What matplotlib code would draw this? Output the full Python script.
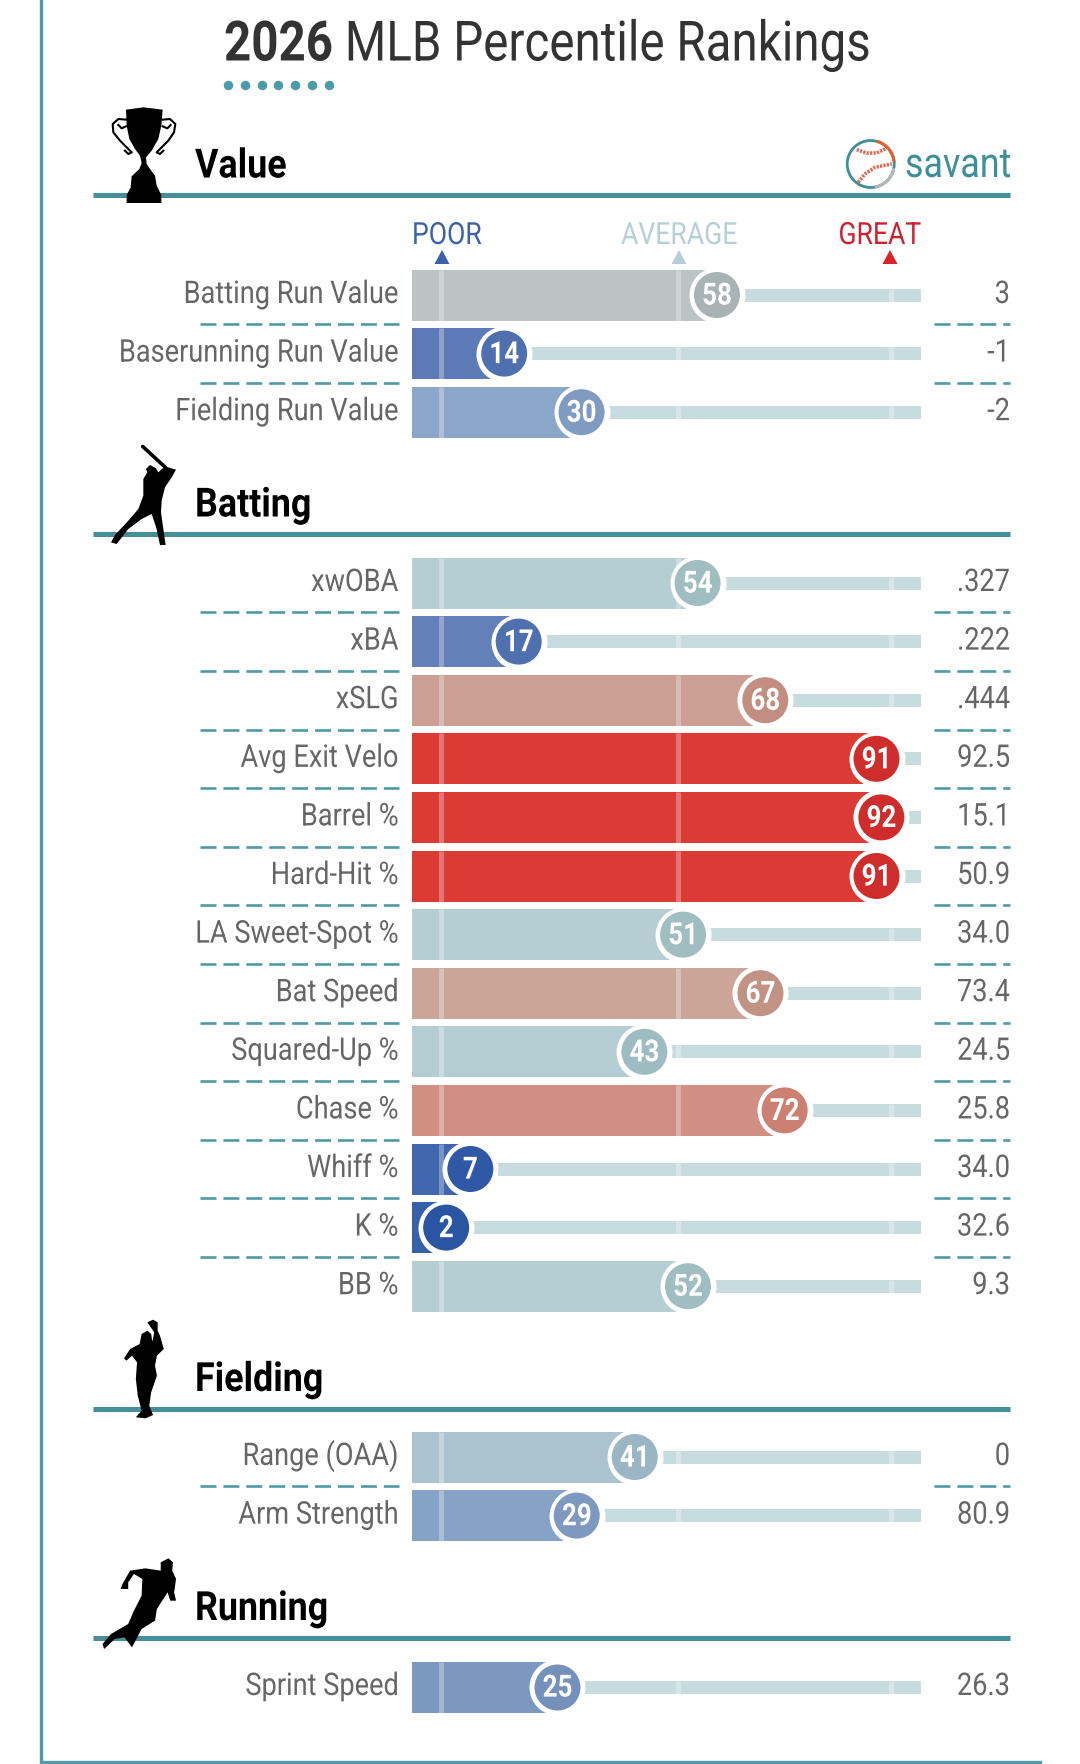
import numpy as np
import matplotlib
matplotlib.use("Agg")
import matplotlib.pyplot as plt
from matplotlib.patches import Polygon, Circle, Arc
from matplotlib.patheffects import AbstractPathEffect
from matplotlib.transforms import Affine2D

W, H = 1080, 1765
plt.rcParams['font.family'] = ['Roboto', 'DejaVu Sans']
plt.rcParams['lines.scale_dashes'] = False

# percentile rows by section
value_labels = ["Batting Run Value", "Baserunning Run Value", "Fielding Run Value"]
value_pct = [58, 14, 30]
value_stats = ["3", "-1", "-2"]
value_bar_colors = ["#bbc3c3", "#5b7ab6", "#8ca6c9"]
value_dot_colors = ["#a9b3b3", "#4f70ae", "#809bc2"]

batting_labels = ["xwOBA", "xBA", "xSLG", "Avg Exit Velo", "Barrel %", "Hard-Hit %", "LA Sweet-Spot %",
                  "Bat Speed", "Squared-Up %", "Chase %", "Whiff %", "K %", "BB %"]
batting_pct = [54, 17, 68, 91, 92, 91, 51, 67, 43, 72, 7, 2, 52]
batting_stats = [".327", ".222", ".444", "92.5", "15.1", "50.9", "34.0", "73.4", "24.5", "25.8", "34.0", "32.6", "9.3"]
batting_bar_colors = ["#b4ced1", "#6480b8", "#cb9f94", "#db3a35", "#db3a35", "#db3a35", "#b4ced1",
                      "#cba598", "#b3cdd2", "#d18e82", "#3f66ae", "#3561ab", "#b4ced1"]
batting_dot_colors = ["#a0bdbf", "#4f70ae", "#c28e82", "#cf2d2b", "#cf2d2b", "#cf2d2b", "#a0bdbf",
                      "#c29385", "#9dbcc1", "#cc8072", "#2f58a6", "#2a55a3", "#a0bdbf"]

fielding_labels = ["Range (OAA)", "Arm Strength"]
fielding_pct = [41, 29]
fielding_stats = ["0", "80.9"]
fielding_bar_colors = ["#aac3cf", "#87a2c7"]
fielding_dot_colors = ["#9ab6c4", "#7d99c0"]

running_labels = ["Sprint Speed"]
running_pct = [25]
running_stats = ["26.3"]
running_bar_colors = ["#7c97c0"]
running_dot_colors = ["#7490bb"]

tick_pcts = [1, 50, 94]

TEAL = "#468f98"
DASH = "#4f9aa5"
ROW = 58.6
BAR_L, BAR_R = 411.5, 921
PCT_L, PCT_R = -5.17, 100.2


class Squeeze(AbstractPathEffect):
    # narrows glyphs around a fixed x so Roboto reads as its condensed cut
    def __init__(self, anchor, sx=0.87):
        super().__init__()
        self.anchor = anchor
        self.sx = sx

    def draw_path(self, renderer, gc, tpath, affine, rgbFace=None):
        narrow = Affine2D().translate(-self.anchor, 0).scale(self.sx, 1).translate(self.anchor, 0)
        renderer.draw_path(gc, tpath, affine + narrow, rgbFace)


fig = plt.figure(figsize=(W / 100, H / 100), dpi=100, facecolor="white")

# pixel-space layer for the frame, headers and icons
bg = fig.add_axes([0, 0, 1, 1], zorder=5)
bg.set_xlim(0, W)
bg.set_ylim(H, 0)
bg.axis("off")
bg.patch.set_alpha(0)


def to_pct(px):
    return PCT_L + (px - BAR_L) * (PCT_R - PCT_L) / (BAR_R - BAR_L)


def to_px(v):
    return BAR_L + (v - PCT_L) * (BAR_R - BAR_L) / (PCT_R - PCT_L)


def section(first_y, labels, pct, stats, bar_colors, dot_colors):
    n = len(labels)
    top = first_y - ROW / 2
    ax = fig.add_axes([BAR_L / W, 1 - (top + n * ROW) / H, (BAR_R - BAR_L) / W, n * ROW / H], zorder=2)
    ax.set_xlim(PCT_L, PCT_R)
    ax.set_ylim(n - 0.5, -0.5)
    ax.axis("off")
    rows = np.arange(n)
    bar_h = 51 / ROW
    track_h = 13 / ROW
    pct = np.array(pct)
    ax.barh(rows, PCT_R - pct, left=pct, height=track_h, color="#c6dcde", zorder=1)
    ax.barh(rows, pct - PCT_L, left=PCT_L, height=bar_h, color=bar_colors, zorder=2)
    for i, v in enumerate(pct):
        for t in tick_pcts:
            h = bar_h if t < v else track_h
            ax.vlines(t, i - h / 2, i + h / 2, color="white", alpha=0.3, lw=3.6, zorder=3)
    ax.scatter(pct, rows, s=(56 * 0.72) ** 2, color="white", lw=0, zorder=4, clip_on=False)
    ax.scatter(pct, rows, s=(46 * 0.72) ** 2, color=dot_colors, lw=0, zorder=5, clip_on=False)
    for i, v in enumerate(pct):
        ax.text(v, i + 0.01, str(v), color="white", fontsize=22, fontweight="bold",
                ha="center", va="center", zorder=6, path_effects=[Squeeze(to_px(v), 0.85)])
        ax.text(to_pct(398.5), i + 8 / ROW, labels[i], color="#666666", fontsize=22.5,
                ha="right", va="baseline", clip_on=False, path_effects=[Squeeze(398.5)])
        ax.text(to_pct(1010), i + 8 / ROW, stats[i], color="#666666", fontsize=22.5,
                ha="right", va="baseline", clip_on=False, path_effects=[Squeeze(1010)])
    for i in range(n - 1):
        y = first_y + (i + 0.5) * ROW
        bg.plot([200, 399], [y, y], color=DASH, lw=1.9, linestyle=(0, (11.5, 5)))
        bg.plot([934, 1010], [y, y], color=DASH, lw=1.9, linestyle=(0, (11.5, 5)))
    return ax


section(296, value_labels, value_pct, value_stats, value_bar_colors, value_dot_colors)
section(584, batting_labels, batting_pct, batting_stats, batting_bar_colors, batting_dot_colors)
section(1458, fielding_labels, fielding_pct, fielding_stats, fielding_bar_colors, fielding_dot_colors)
section(1688, running_labels, running_pct, running_stats, running_bar_colors, running_dot_colors)

# outer frame, open at the top and right
bg.plot([40.5, 40.5, 1040], [0, 1763, 1763], color="#5199ab", lw=2.4, solid_joinstyle="miter")

# page title
r = fig.canvas.get_renderer()
t1 = bg.text(224, 61.5, "2026", fontsize=40, fontweight="bold", color="#333333", va="baseline",
             path_effects=[Squeeze(224, 0.855)])
x1 = 224 + t1.get_window_extent(r).width * 0.855
bg.text(x1 + 12, 61.5, "MLB Percentile Rankings", fontsize=40, color="#333333", va="baseline",
        path_effects=[Squeeze(x1 + 12, 0.855)])
bg.scatter(np.linspace(228, 328.5, 7), [85.5] * 7, s=(9.5 * 0.72) ** 2, color="#4c9bab", lw=0)

# section headers
header_names = ["Value", "Batting", "Fielding", "Running"]
header_base = [178.5, 517.5, 1392, 1621]
header_line = [196, 535, 1410, 1639]
for name, b, y in zip(header_names, header_base, header_line):
    bg.plot([93, 1010], [y, y], color=TEAL, lw=3.6, solid_capstyle="butt", zorder=1)
    bg.text(195, b, name, fontsize=29, fontweight="bold", color="black", va="baseline",
            path_effects=[Squeeze(195, 0.89)])

# scale legend
bg.text(412, 245, "POOR", fontsize=22, color="#3a62a8", va="baseline", path_effects=[Squeeze(412)])
bg.text(679, 245, "AVERAGE", fontsize=22, color="#b5d0d4", va="baseline", ha="center",
        path_effects=[Squeeze(679)])
bg.text(921, 245, "GREAT", fontsize=22, color="#cf2030", va="baseline", ha="right",
        path_effects=[Squeeze(921)])
for x, c in [(442, "#3a62a8"), (679, "#b5d0d4"), (890, "#d8232a")]:
    bg.add_patch(Polygon([(x - 7.5, 265), (x + 7.5, 265), (x, 251)], color=c, lw=0))

# savant logo
bg.text(905, 178, "savant", fontsize=30, color="#3d8f98", va="baseline", path_effects=[Squeeze(905, 0.86)])
bg.add_patch(Circle((870.7, 165), 23.5, fill=False, ec="#3f8f98", lw=2))
bg.add_patch(Arc((870.7, 165), 47, 47, theta1=-75, theta2=-5, ec="#e0612f", lw=2.2, zorder=3))
bg.add_patch(Arc((870.7, 165), 47, 47, theta1=10, theta2=80, ec="#b5b5b5", lw=2.2, zorder=3))
seam1_x = np.array([856.7, 866.7, 876.7, 886.7])
seam1_y = np.array([150.7, 154, 154, 149.3])
seam2_x = np.array([858.3, 865, 875, 891.7])
seam2_y = np.array([183.3, 175, 168.3, 165])
for sx, sy in [(seam1_x, seam1_y), (seam2_x, seam2_y)]:
    bg.plot(sx, sy, color="#e4674f", lw=2.6, linestyle=(0, (1.6, 0.9)))


def icon(points, sx, sy, ox, oy):
    pts = [(ox + a / sx, oy + b / sy) for a, b in points]
    bg.add_patch(Polygon(pts, closed=True, color="black", lw=0, zorder=4))


# trophy
cup = [(108, 62), (160, 55), (218, 62), (214, 110), (205, 150), (185, 185), (168, 205), (170, 225), (180, 240),
       (195, 260), (200, 290), (214, 318), (214, 342), (110, 342), (110, 318), (122, 295), (125, 262), (148, 240),
       (155, 222), (150, 200), (135, 180), (118, 150), (110, 110)]
icon(cup, 3, 3, 90, 90)
handle_l_x = np.array([110, 85, 68, 70, 90, 110, 125, 115, 105])
handle_r_x = np.array([218, 240, 256, 252, 235, 215, 200, 210, 220])
handle_y = np.array([92, 90, 105, 130, 155, 175, 190, 195, 185])
for hx in [handle_l_x, handle_r_x]:
    bg.plot(90 + hx / 3, 90 + handle_y / 3, color="black", lw=1.5, zorder=4)
bg.plot(90 + np.array([85, 95, 108]) / 3, 90 + np.array([108, 118, 112]) / 3, color="black", lw=1.5, zorder=4)
bg.plot(90 + np.array([242, 232, 218]) / 3, 90 + np.array([108, 118, 112]) / 3, color="black", lw=1.5, zorder=4)

# batter
batter = [(258, 120), (270, 108), (288, 118), (295, 130), (315, 112), (348, 122), (335, 145), (315, 175),
          (305, 215), (303, 250), (310, 300), (317, 348), (300, 348), (290, 300), (275, 255), (245, 270),
          (205, 300), (170, 345), (153, 340), (165, 318), (205, 275), (235, 240), (250, 200), (250, 150), (262, 130)]
icon(batter, 3, 3, 60, 430)
bg.plot([142.7, 165], [447.5, 468], color="black", lw=2.6, zorder=4, solid_capstyle="round")

# fielder
fielder = [(385, 70), (400, 62), (412, 70), (412, 95), (418, 110), (428, 150), (410, 170), (405, 200),
           (410, 230), (395, 280), (390, 320), (400, 348), (380, 358), (355, 355), (370, 335), (360, 290),
           (355, 240), (358, 190), (345, 170), (330, 185), (324, 178), (340, 150), (365, 135), (370, 105),
           (385, 95), (395, 105), (398, 128), (403, 100)]
icon(fielder, 2.613, 3, 0, 1300)

# runner
runner = [(420, 790), (440, 778), (452, 790), (450, 815), (460, 840), (455, 880), (460, 905), (445, 905),
          (438, 880), (410, 930), (405, 965), (370, 990), (345, 1045), (325, 1015), (300, 1020), (272, 1050),
          (268, 1035), (290, 1005), (335, 975), (350, 935), (370, 890), (372, 840), (350, 825), (335, 850),
          (335, 870), (315, 870), (320, 855), (340, 815), (380, 808), (420, 815)]
icon(runner, 2.613, 3, 0, 1300)

fig.savefig("out.png", dpi=100, facecolor="white")
